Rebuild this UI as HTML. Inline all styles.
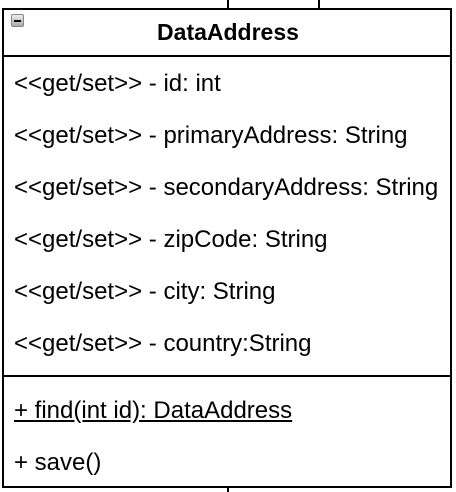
<!DOCTYPE html>
<html><head><style>
body{margin:0;width:456px;height:492px;background:#fff;position:relative;overflow:hidden;font-family:"Liberation Sans",Arial,sans-serif;}
.l{position:absolute;background:#000}
.t{position:absolute;left:14px;font-size:24px;color:#000;white-space:nowrap;line-height:28px}
</style></head><body>
<div class="l" style="left:227px;top:0;width:2px;height:10px"></div>
<div class="l" style="left:318px;top:0;width:2px;height:10px"></div>
<div class="l" style="left:227px;top:486px;width:2px;height:6px"></div>
<div style="position:absolute;left:2px;top:8px;width:446px;height:476px;border:2px solid #000"></div>
<div class="l" style="left:2px;top:55px;width:450px;height:2px"></div>
<div class="l" style="left:2px;top:375px;width:450px;height:2px"></div>
<div style="position:absolute;left:11px;top:14px;width:11px;height:11px;background:linear-gradient(#eee,#aaa);border:1px solid #888;border-radius:2px"><div style="position:absolute;left:2px;top:5px;width:7px;height:2px;background:#000"></div></div>
<div style="position:absolute;left:0;width:456px;top:18px;text-align:center;font-weight:bold;font-size:23px;line-height:28px">DataAddress</div>
<div class="t" style="top:70px">&lt;&lt;get/set&gt;&gt; - id: int</div>
<div class="t" style="top:122px">&lt;&lt;get/set&gt;&gt; - primaryAddress: String</div>
<div class="t" style="top:174px">&lt;&lt;get/set&gt;&gt; - secondaryAddress: String</div>
<div class="t" style="top:226px">&lt;&lt;get/set&gt;&gt; - zipCode: String</div>
<div class="t" style="top:278px">&lt;&lt;get/set&gt;&gt; - city: String</div>
<div class="t" style="top:330px">&lt;&lt;get/set&gt;&gt; - country:String</div>
<div class="t" style="top:397px;text-decoration:underline">+ find(int id): DataAddress</div>
<div class="t" style="top:449px">+ save()</div>
</body></html>
